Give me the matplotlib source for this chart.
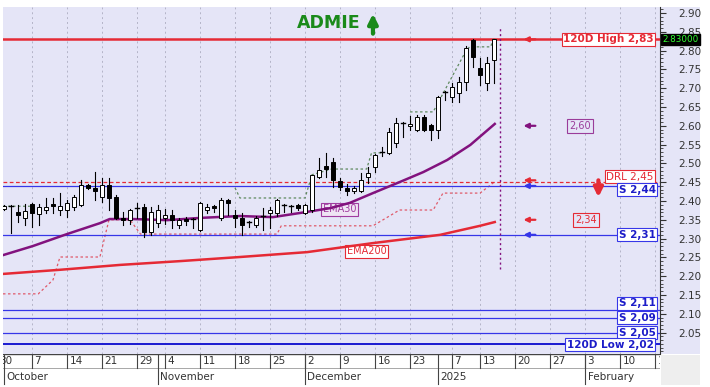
import numpy as np
import matplotlib
matplotlib.use('Agg')
import matplotlib.pyplot as plt

# sessions are counted in trading days from 30 Sep 2024 (session 0)
opens = [2.380, 2.388, 2.371, 2.355, 2.392, 2.365, 2.376, 2.392, 2.376, 2.376,
         2.384, 2.389, 2.443, 2.435, 2.411, 2.443, 2.411, 2.355, 2.349, 2.380,
         2.384, 2.318, 2.341, 2.355, 2.363, 2.336, 2.352, 2.352, 2.323, 2.376,
         2.387, 2.355, 2.403, 2.363, 2.355, 2.344, 2.336, 2.357, 2.368, 2.368,
         2.389, 2.387, 2.389, 2.368, 2.376, 2.464, 2.493, 2.504, 2.453, 2.435,
         2.427, 2.427, 2.464, 2.490, 2.528, 2.528, 2.554, 2.607, 2.600, 2.589,
         2.623, 2.602, 2.589, 2.690, 2.677, 2.687, 2.717, 2.828, 2.754, 2.714,
         2.775]
highs = [2.390, 2.390, 2.389, 2.392, 2.395, 2.392, 2.408, 2.408, 2.421, 2.403,
         2.416, 2.456, 2.446, 2.477, 2.461, 2.461, 2.416, 2.371, 2.380, 2.395,
         2.392, 2.384, 2.389, 2.380, 2.376, 2.355, 2.357, 2.355, 2.398, 2.392,
         2.390, 2.408, 2.406, 2.376, 2.368, 2.346, 2.360, 2.381, 2.384, 2.406,
         2.391, 2.389, 2.392, 2.392, 2.470, 2.514, 2.527, 2.514, 2.461, 2.445,
         2.440, 2.474, 2.490, 2.525, 2.544, 2.594, 2.620, 2.610, 2.625, 2.628,
         2.628, 2.605, 2.680, 2.692, 2.714, 2.730, 2.812, 2.830, 2.780, 2.783,
         2.830]
lows = [2.375, 2.315, 2.344, 2.336, 2.331, 2.336, 2.368, 2.368, 2.363, 2.357,
        2.376, 2.386, 2.432, 2.403, 2.397, 2.376, 2.352, 2.336, 2.340, 2.355,
        2.304, 2.310, 2.331, 2.340, 2.328, 2.328, 2.336, 2.328, 2.320, 2.368,
        2.370, 2.350, 2.363, 2.331, 2.310, 2.331, 2.330, 2.323, 2.328, 2.360,
        2.371, 2.370, 2.375, 2.365, 2.370, 2.460, 2.464, 2.437, 2.429, 2.416,
        2.420, 2.425, 2.448, 2.477, 2.520, 2.525, 2.544, 2.570, 2.589, 2.586,
        2.586, 2.562, 2.567, 2.669, 2.663, 2.663, 2.695, 2.756, 2.709, 2.695,
        2.714]
closes = [2.388, 2.387, 2.363, 2.373, 2.368, 2.384, 2.384, 2.386, 2.387, 2.395,
          2.411, 2.443, 2.435, 2.427, 2.443, 2.408, 2.355, 2.350, 2.376, 2.382,
          2.318, 2.371, 2.376, 2.363, 2.349, 2.349, 2.347, 2.352, 2.395, 2.384,
          2.381, 2.403, 2.395, 2.355, 2.336, 2.344, 2.355, 2.359, 2.376, 2.403,
          2.389, 2.387, 2.381, 2.389, 2.469, 2.482, 2.485, 2.456, 2.437, 2.427,
          2.435, 2.456, 2.474, 2.522, 2.530, 2.583, 2.607, 2.607, 2.605, 2.623,
          2.589, 2.589, 2.677, 2.690, 2.703, 2.717, 2.807, 2.783, 2.735, 2.767,
          2.830]
sessions = np.arange(1, len(opens) + 1)

ema30_x = [0.86, 5.1, 10.0, 14.7, 16.1, 19.4, 24.3, 29.0, 34.7, 39.4, 44.3,
           47.6, 50.4, 53.7, 57.6, 60.9, 64.3, 67.6, 71.1]
ema30_y = [2.256, 2.280, 2.312, 2.341, 2.352, 2.352, 2.349, 2.355, 2.360,
           2.357, 2.371, 2.381, 2.395, 2.421, 2.451, 2.477, 2.509, 2.549, 2.605]
ema200_x = [0.86, 9.0, 17.6, 26.1, 34.7, 44.3, 53.7, 63.3, 69.0, 71.1]
ema200_y = [2.206, 2.217, 2.230, 2.240, 2.251, 2.264, 2.288, 2.310, 2.334,
            2.344]

# stop lines (dotted), NaN breaks the line
upper_x = [0.86, 4.7, np.nan, 34.0, 34.7, 44.0, 45.0, 47.8, 52.8, 53.5, 55.0,
           np.nan, 59.0, 62.3, 67.0, 67.5, 70.5, 71.0]
upper_y = [2.386, 2.386, np.nan, 2.435, 2.408, 2.408, 2.470, 2.485, 2.485,
           2.528, 2.528, np.nan, 2.637, 2.637, 2.800, 2.810, 2.810, 2.834]
lower_x = [0.86, 5.9, 8.0, 9.0, 14.7, 16.0, 19.0, 20.5, 40.0, 40.6, 53.7,
           57.5, 62.3, 63.7, 69.0, 71.0]
lower_y = [2.153, 2.153, 2.190, 2.251, 2.251, 2.350, 2.350, 2.312, 2.312,
           2.334, 2.334, 2.376, 2.376, 2.421, 2.421, 2.450]

hline_high, hline_low = 2.83, 2.02
drl_level = 2.45
supports = [2.44, 2.31, 2.11, 2.09, 2.05]
support_labels = ['S 2,44', 'S 2,31', 'S 2,11', 'S 2,09', 'S 2,05']
ema30_last, ema200_last = 2.60, 2.34

day_ticks = [0, 5, 10, 15, 20, 24, 29, 34, 39, 44, 49, 54, 59, 65, 69, 74,
             79, 84, 89, 94]
day_labels = ['30', '7', '14', '21', '29', '4', '11', '18', '25', '2', '9',
              '16', '23', '7', '13', '20', '27', '3', '10', '17']
month_starts = [1, 23, 44, 63, 84]
month_labels = ['October', 'November', 'December', '2025', 'February']

RED = '#e52a35'
BLUE = '#3636e8'
PURPLE = '#82127e'
BG = '#e5e5f7'

fig = plt.figure(figsize=(7.1, 3.87), dpi=100)
W, H = 710, 387


def box(x0, y0, x1, y1):
    return [x0 / W, 1 - y1 / H, (x1 - x0) / W, (y1 - y0) / H]


# lavender backdrop behind plot and price scale, grey corner
fig.patches.append(plt.Rectangle((3 / W, 1 - 354 / H), 697 / W, 347 / H,
                                 transform=fig.transFigure, fc=BG, ec='none',
                                 zorder=-5))
fig.patches.append(plt.Rectangle((661 / W, 1 - 385 / H), 39 / W, 30 / H,
                                 transform=fig.transFigure, fc='#eeeeee',
                                 ec='none', zorder=-5))

ax = fig.add_axes(box(3, 7, 660, 354))
ax.set_facecolor(BG)
ax.set_xlim(0.86, 94.7)
ax.set_ylim(1.993, 2.916)

for s in ['top', 'left', 'bottom']:
    ax.spines[s].set_visible(False)
ax.spines['right'].set_color('#333333')
ax.spines['right'].set_linewidth(0.8)

ax.yaxis.tick_right()
ax.set_yticks(np.arange(2.05, 2.901, 0.05))
ax.set_yticklabels([f'{v:.2f}' for v in np.arange(2.05, 2.901, 0.05)])
ax.set_yticks(np.arange(2.00, 2.911, 0.01), minor=True)
ax.tick_params(axis='y', which='major', length=4, width=0.8, pad=9,
               labelsize=7.5, colors='#333333')
ax.tick_params(axis='y', which='minor', length=2, width=0.6, colors='#333333')
ax.set_xticks([])

# vertical dotted grid at day ticks
for t in day_ticks:
    ax.axvline(t, color='#b4b4c8', lw=0.7, ls=(0, (2, 3)), zorder=1)

# horizontal levels
ax.axhline(hline_high, color=RED, lw=1.8, zorder=3)
ax.axhline(drl_level, color=RED, lw=0.9, ls=(0, (3, 2)), zorder=3)
for lv in supports:
    ax.axhline(lv, color=BLUE, lw=0.9, zorder=3)
ax.axhline(hline_low, color='#1a1ad0', lw=1.4, zorder=3)

# moving averages and stop lines
ax.plot(lower_x, lower_y, color='#e05a6a', lw=0.9, ls=(0, (2, 2)), zorder=2)
ax.plot(ema200_x, ema200_y, color=RED, lw=1.8, zorder=4)
ax.plot(ema30_x, ema30_y, color=PURPLE, lw=1.8, zorder=4)
ax.plot(upper_x, upper_y, color='#5f8a5f', lw=0.9, ls=(0, (2, 2)), zorder=4)

# candles
bw = 0.68
for x, o, h, l, c in zip(sessions, opens, highs, lows, closes):
    ax.plot([x, x], [l, h], color='black', lw=0.8, zorder=5)
    if abs(c - o) < 0.003:
        ax.plot([x - bw / 2, x + bw / 2], [c, c], color='black', lw=1.0,
                zorder=6)
    else:
        ax.add_patch(plt.Rectangle((x - bw / 2, min(o, c)), bw, abs(c - o),
                                   fc='white' if c > o else 'black',
                                   ec='black', lw=0.7, zorder=6))

# last-session marker
ax.plot([71.9, 71.9], [2.22, 2.86], color=PURPLE, lw=1.0, ls=(0, (1.5, 2)),
        zorder=4)

# small level arrows
for lv, col in [(hline_high, RED), (ema30_last, PURPLE), (2.455, RED),
                (supports[0], BLUE), (2.35, RED), (supports[1], BLUE)]:
    ax.annotate('', xy=(75.2, lv), xytext=(76.9, lv),
                arrowprops=dict(arrowstyle='-|>', color=col, lw=1.6,
                                mutation_scale=7, shrinkA=0, shrinkB=0),
                zorder=7)

ax.text(83.3, ema30_last, '2,60', color='#9a3c9a', fontsize=7, ha='center',
        va='center', bbox=dict(boxstyle='square,pad=0.2', fc=BG,
                               ec='#9a3c9a', lw=0.8))
ax.text(84.1, 2.35, '2,34', color=RED, fontsize=7, ha='center', va='center',
        bbox=dict(boxstyle='square,pad=0.2', fc=BG, ec=RED, lw=0.8))

# right-hand labels
lab = dict(fontsize=7.5, ha='right', va='center')
ax.text(93.8, hline_high, '120D High 2,83', color=RED, fontweight='bold',
        bbox=dict(boxstyle='square,pad=0.15', fc='white', ec=RED, lw=0.8),
        **lab)
ax.text(93.8, 2.465, 'DRL 2,45', color=RED,
        bbox=dict(boxstyle='square,pad=0.15', fc='white', ec=RED, lw=0.8),
        **lab)
label_y = [2.43, 2.31, 2.128, 2.09, 2.05]
for y, t in zip(label_y, support_labels):
    ax.text(94.1, y, t, color='#1c1cc8', fontweight='bold',
            bbox=dict(boxstyle='square,pad=0.15', fc='white', ec=BLUE, lw=0.8),
            **lab)
ax.text(93.8, 2.018, '120D Low 2,02', color='#1c1cc8', fontweight='bold',
        bbox=dict(boxstyle='square,pad=0.15', fc='white', ec=BLUE, lw=0.8),
        **lab)

ax.text(47.4, 2.873, 'ADMIE', color='#1a8a1a', fontsize=12.5,
        fontweight='bold', ha='center', va='center')
ax.annotate('', xy=(53.7, 2.898), xytext=(53.7, 2.845),
            arrowprops=dict(arrowstyle='-|>', color='#1a8a1a', lw=3,
                            mutation_scale=14, shrinkA=0, shrinkB=0))
ax.annotate('', xy=(85.9, 2.41), xytext=(85.9, 2.455),
            arrowprops=dict(arrowstyle='-|>', color=RED, lw=3,
                            mutation_scale=13, shrinkA=0, shrinkB=0))

ax.text(48.9, 2.378, 'EMA30', color='#a03ca0', fontsize=7, ha='center',
        va='center',
        bbox=dict(boxstyle='square,pad=0.15', fc='#efe4f4', ec='#a03ca0',
                  lw=0.8))
ax.text(52.8, 2.266, 'EMA200', color=RED, fontsize=7, ha='center',
        va='center', bbox=dict(boxstyle='square,pad=0.15', fc='white', ec=RED,
                               lw=0.8))

# last price tag on the scale (covers the 2.85 label as in the original)
ax.text(1.003, hline_high, '2.83000', transform=ax.get_yaxis_transform(),
        color='#33ff33', fontsize=6.3, ha='left', va='center', zorder=10,
        bbox=dict(boxstyle='square,pad=0.15', fc='black', ec='black'))

# date strip
axd = fig.add_axes(box(3, 354, 660, 386), sharex=ax)
axd.set_ylim(0, 1)
axd.axis('off')
axd.axhline(1, color='#444444', lw=1.0)
axd.axhline(0.55, color='#999999', lw=0.6)
for t, s in zip(day_ticks, day_labels):
    axd.plot([t, t], [0.55, 1], color='#444444', lw=0.8)
    axd.text(t + 0.35, 0.78, s, fontsize=7.5, color='#333333', ha='left',
             va='center', clip_on=True)
for t, s in zip(month_starts, month_labels):
    axd.plot([t, t], [0.05, 1], color='#444444', lw=0.8)
    axd.text(t + 0.35, 0.28, s, fontsize=7.5, color='#333333', ha='left',
             va='center')

fig.savefig('out.png', dpi=100, facecolor='white')
